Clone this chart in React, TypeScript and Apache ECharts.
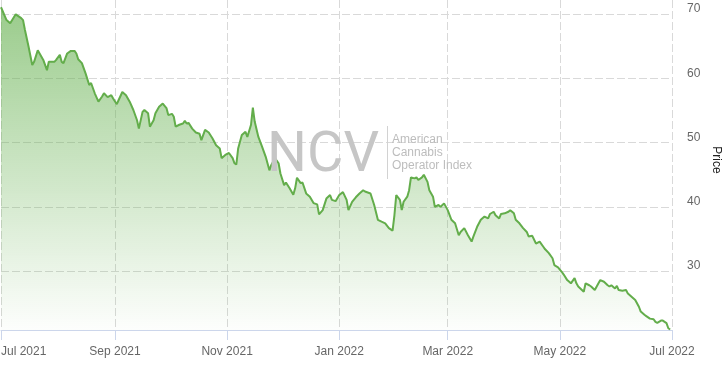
import React, { useEffect, useRef } from "react";
import * as echarts from "echarts";

const dates = [
  "2021-07-01","2021-07-04","2021-07-06","2021-07-09","2021-07-12","2021-07-13","2021-07-14","2021-07-16","2021-07-18","2021-07-19","2021-07-21","2021-07-22","2021-07-24","2021-07-26","2021-07-27","2021-07-30","2021-07-31",
  "2021-08-02","2021-08-03","2021-08-04","2021-08-06","2021-08-08","2021-08-10","2021-08-11","2021-08-12","2021-08-14","2021-08-16","2021-08-18","2021-08-19","2021-08-21","2021-08-23","2021-08-25","2021-08-26","2021-08-28","2021-08-30","2021-08-31",
  "2021-09-02","2021-09-03","2021-09-05","2021-09-07","2021-09-09","2021-09-11","2021-09-13","2021-09-14","2021-09-16","2021-09-17","2021-09-19","2021-09-20","2021-09-22","2021-09-23","2021-09-25","2021-09-27","2021-09-29","2021-09-30",
  "2021-10-02","2021-10-03","2021-10-04","2021-10-06","2021-10-08","2021-10-09","2021-10-10","2021-10-11","2021-10-13","2021-10-15","2021-10-17","2021-10-18","2021-10-20","2021-10-22","2021-10-24","2021-10-26","2021-10-28","2021-10-29","2021-10-31",
  "2021-11-02","2021-11-04","2021-11-05","2021-11-06","2021-11-07","2021-11-09","2021-11-11","2021-11-12","2021-11-14","2021-11-15","2021-11-16","2021-11-18","2021-11-20","2021-11-22","2021-11-24","2021-11-25","2021-11-27","2021-11-29","2021-11-30",
  "2021-12-02","2021-12-03","2021-12-05","2021-12-07","2021-12-08","2021-12-09","2021-12-11","2021-12-12","2021-12-14","2021-12-16","2021-12-18","2021-12-20","2021-12-21","2021-12-23","2021-12-25","2021-12-27","2021-12-28","2021-12-30",
  "2022-01-01","2022-01-03","2022-01-05","2022-01-06","2022-01-08","2022-01-10","2022-01-12","2022-01-14","2022-01-15","2022-01-18","2022-01-20","2022-01-22","2022-01-24","2022-01-26","2022-01-28","2022-01-30","2022-01-31",
  "2022-02-01","2022-02-03","2022-02-04","2022-02-05","2022-02-07","2022-02-08","2022-02-09","2022-02-11","2022-02-12","2022-02-13","2022-02-15","2022-02-16","2022-02-18","2022-02-19","2022-02-21","2022-02-22","2022-02-24","2022-02-25","2022-02-27",
  "2022-03-01","2022-03-03","2022-03-05","2022-03-07","2022-03-08","2022-03-10","2022-03-12","2022-03-14","2022-03-15","2022-03-17","2022-03-19","2022-03-21","2022-03-23","2022-03-24","2022-03-26","2022-03-27","2022-03-29","2022-03-30",
  "2022-04-01","2022-04-03","2022-04-04","2022-04-06","2022-04-07","2022-04-09","2022-04-11","2022-04-13","2022-04-14","2022-04-16","2022-04-18","2022-04-20","2022-04-22","2022-04-23","2022-04-25","2022-04-27","2022-04-28","2022-04-30",
  "2022-05-02","2022-05-03","2022-05-05","2022-05-07","2022-05-09","2022-05-10","2022-05-11","2022-05-14","2022-05-15","2022-05-17","2022-05-18","2022-05-20","2022-05-22","2022-05-23","2022-05-25","2022-05-27","2022-05-28","2022-05-29","2022-05-31",
  "2022-06-01","2022-06-02","2022-06-04","2022-06-06","2022-06-07","2022-06-09","2022-06-11","2022-06-13","2022-06-14","2022-06-16","2022-06-17","2022-06-19","2022-06-21","2022-06-22","2022-06-23","2022-06-25","2022-06-26","2022-06-28","2022-06-29","2022-06-30",
];

const prices = [
  71.1, 69.1, 68.6, 70.0, 69.4, 69.1, 67.6, 64.95, 62.1, 62.6, 64.4, 63.9, 62.9, 61.3, 62.6, 62.6, 62.9,
  63.7, 62.6, 62.4, 63.9, 64.3, 64.3, 63.9, 63.0, 62.4, 60.8, 59.0, 59.3, 57.7, 56.4, 57.2, 57.7, 57.1, 57.4, 56.9,
  56.0, 56.65, 57.9, 57.4, 56.4, 55.1, 53.5, 52.2, 54.8, 55.1, 54.6, 52.5, 53.5, 54.6, 55.6, 56.1, 55.4, 54.3,
  54.5, 54.05, 52.5, 52.8, 53.0, 53.4, 53.0, 53.1, 52.2, 51.6, 51.4, 50.4, 52.0, 51.6, 50.7, 49.6, 49.1, 47.6, 48.1,
  48.4, 47.6, 46.8, 46.6, 49.1, 51.2, 51.7, 50.9, 52.8, 55.45, 53.3, 50.9, 49.4, 47.8, 45.7, 46.5, 47.6, 46.8, 45.2,
  43.4, 43.8, 42.9, 41.9, 42.9, 44.55, 43.7, 43.8, 42.1, 41.6, 40.6, 40.4, 38.85, 39.5, 41.3, 41.85, 41.1, 40.9,
  41.85, 42.3, 41.1, 39.5, 40.8, 41.5, 42.1, 42.6, 42.4, 42.1, 40.3, 38.0, 37.7, 37.45, 36.7, 36.3, 38.7,
  41.85, 41.1, 39.5, 40.8, 41.6, 42.6, 44.6, 44.45, 44.6, 44.2, 44.6, 45.0, 43.9, 42.6, 41.6, 40.0, 40.3, 40.0, 40.55,
  39.5, 38.0, 37.45, 35.6, 36.1, 36.7, 35.6, 34.6, 35.4, 36.9, 38.0, 38.5, 38.2, 38.9, 39.25, 38.7, 38.2, 38.9,
  39.0, 39.25, 39.5, 39.0, 38.0, 37.45, 36.7, 36.1, 35.4, 35.5, 34.3, 34.6, 33.8, 33.4, 32.8, 32.0, 30.95, 30.6,
  29.9, 29.5, 28.6, 28.1, 28.9, 28.1, 27.6, 26.8, 28.1, 27.8, 27.6, 27.05, 28.1, 28.6, 28.35, 27.8, 27.6, 27.8, 27.3,
  27.7, 27.05, 26.95, 27.05, 26.5, 26.0, 25.5, 24.45, 23.7, 23.2, 23.0, 22.6, 22.5, 22.1, 21.95, 22.3, 22.3, 21.9, 21.1, 20.9,
];

const xTickDates = ["2021-07-01", "2021-09-01", "2021-11-01", "2022-01-01", "2022-03-01", "2022-05-01", "2022-07-01"];
const yTicks = [30, 40, 50, 60, 70];
const monthNames = ["Jan", "Feb", "Mar", "Apr", "May", "Jun", "Jul", "Aug", "Sep", "Oct", "Nov", "Dec"];
const yAxisTitle = "Price";

const toTs = (s: string) => {
  const [y, m, d] = s.split("-").map(Number);
  return Date.UTC(y, m - 1, d);
};

export default function App() {
  const ref = useRef<HTMLDivElement>(null);
  useEffect(() => {
    if (!ref.current) return;
    const chart = echarts.init(ref.current, null, { renderer: "svg" });
    const xTicks = xTickDates.map(toTs);
    const data = dates.map((d, i) => [toTs(d), prices[i]]);
    const grid = { color: "#d9d9d9", type: [8, 3], width: 1 };
    chart.setOption({
      animation: false,
      textStyle: { fontFamily: "'Liberation Sans', Arial, sans-serif" },
      grid: { left: 1, right: 53, top: 0, bottom: 38, containLabel: false, outerBoundsMode: "none" },
      xAxis: {
        type: "value",
        min: xTicks[0],
        max: xTicks[xTicks.length - 1],
        axisLine: { show: true, onZero: false, lineStyle: { color: "#ccd6eb", width: 1 } },
        axisTick: { show: true, length: 10, lineStyle: { color: "#ccd6eb" }, customValues: xTicks },
        axisLabel: {
          customValues: xTicks,
          color: "#666666",
          fontSize: 12,
          margin: 15,
          alignMinLabel: "left",
          hideOverlap: false,
          formatter: (v: number) => {
            const d = new Date(v);
            return `${monthNames[d.getUTCMonth()]} ${d.getUTCFullYear()}`;
          },
        },
        splitLine: { show: true, lineStyle: grid },
      },
      yAxis: {
        type: "value",
        position: "right",
        min: 20.83,
        max: 72.23,
        axisLine: { show: false },
        axisTick: { show: false, customValues: yTicks },
        axisLabel: {
          customValues: yTicks,
          color: "#666666",
          fontSize: 12,
          margin: 15,
          verticalAlign: "bottom",
        },
        splitLine: { show: true, lineStyle: grid },
      },
      series: [
        {
          type: "line",
          data,
          showSymbol: false,
          symbol: "none",
          lineStyle: { color: "#63ad4b", width: 2 },
          areaStyle: {
            origin: "start",
            color: new echarts.graphic.LinearGradient(0, 0, 0, 1, [
              { offset: 0, color: "rgba(104,178,82,0.95)" },
              { offset: 1, color: "rgba(104,178,82,0.02)" },
            ]),
          },
        },
      ],
      graphic: [
        {
          type: "text",
          x: 717,
          y: 160,
          rotation: -Math.PI / 2,
          style: {
            text: yAxisTitle,
            fontFamily: "'Liberation Sans', Arial, sans-serif",
            fontSize: 12,
            fill: "#222",
            align: "center",
            verticalAlign: "middle",
          },
        },
        {
          type: "text",
          z: 100,
          style: {
            x: 267,
            y: 152,
            text: "NCV",
            fontFamily: "Roboto",
            fontSize: 56,
            fill: "#c6c6c6",
            verticalAlign: "middle",
          },
        },
        {
          type: "line",
          z: 100,
          shape: { x1: 387.5, y1: 126, x2: 387.5, y2: 179 },
          style: { stroke: "#d2d2d2", lineWidth: 1 },
        },
        {
          type: "text",
          z: 100,
          style: {
            x: 392,
            y: 152,
            text: "American\nCannabis\nOperator Index",
            fontFamily: "'Liberation Sans', Arial, sans-serif",
            fontSize: 12,
            lineHeight: 13,
            fill: "#bdbdbd",
            verticalAlign: "middle",
          },
        },
      ],
    });
    return () => chart.dispose();
  }, []);
  return (
    <div
      ref={ref}
      style={{ position: "fixed", left: 0, top: 0, width: 725, height: 368 }}
    />
  );
}
